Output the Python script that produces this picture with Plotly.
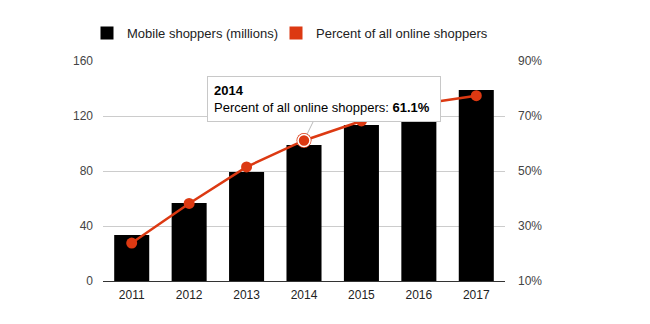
import plotly.graph_objects as go

years = ["2011", "2012", "2013", "2014", "2015", "2016", "2017"]
mobile_shoppers = [33.5, 56.7, 79.3, 98.9, 113.5, 127.0, 138.9]
percent_online = [23.8, 38.2, 51.5, 61.1, 68.2, 74.3, 77.4]
left_ticks = [0, 40, 80, 120, 160]
right_ticks = [10, 30, 50, 70, 90]
highlight_year = "2014"

RED = "#dc3912"
FONT = "Liberation Sans, Arial, sans-serif"

hi = years.index(highlight_year)

fig = go.Figure()

fig.add_trace(go.Bar(
    x=years, y=mobile_shoppers, marker_color="black", marker_line_width=0,
    showlegend=False, hoverinfo="skip"))

fig.add_trace(go.Scatter(
    x=years, y=percent_online, yaxis="y2", mode="lines+markers",
    line=dict(color=RED, width=2.5), marker=dict(color=RED, size=11),
    showlegend=False, hoverinfo="skip"))

# highlighted point (ring)
fig.add_trace(go.Scatter(
    x=[years[hi]], y=[percent_online[hi]], yaxis="y2", mode="markers",
    marker=dict(color=RED, size=15, line=dict(width=0)),
    showlegend=False, hoverinfo="skip"))
fig.add_trace(go.Scatter(
    x=[years[hi]], y=[percent_online[hi]], yaxis="y2", mode="markers",
    marker=dict(color=RED, size=12, line=dict(color="white", width=1.6)),
    showlegend=False, hoverinfo="skip"))

# legend entries
fig.add_trace(go.Scatter(
    x=[years[0]], y=[None], mode="markers", name="Mobile shoppers (millions)",
    marker=dict(symbol="square", color="black", size=13), hoverinfo="skip",
    legend="legend"))
fig.add_trace(go.Scatter(
    x=[years[0]], y=[None], mode="markers", name="Percent of all online shoppers",
    marker=dict(symbol="square", color=RED, size=13), hoverinfo="skip",
    legend="legend2"))

fig.add_annotation(
    x=hi, y=percent_online[hi], yref="y2",
    text=f"<b>{years[hi]}</b><br>Percent of all online shoppers: <b>{percent_online[hi]:.1f}%</b>",
    showarrow=True, arrowhead=0, arrowwidth=1, arrowcolor="#bbbbbb",
    ax=20, ay=-41, standoff=7,
    align="left", bgcolor="white", bordercolor="#c8c8c8", borderwidth=1,
    borderpad=6, width=220,
    font=dict(family=FONT, size=13, color="#000000"))

legend_common = dict(orientation="h", xref="container", xanchor="left",
                     y=0.944, yref="container", yanchor="top",
                     font=dict(size=13, color="#222222"), itemwidth=30,
                     bgcolor="rgba(0,0,0,0)")

fig.update_layout(
    width=650, height=324,
    margin=dict(l=103, r=145, t=61, b=43, autoexpand=False),
    paper_bgcolor="white", plot_bgcolor="white",
    font=dict(family=FONT, size=12, color="#444444"),
    bargap=0.39,
    legend=dict(x=87 / 650, **legend_common),
    legend2=dict(x=276 / 650, **legend_common),
    xaxis=dict(type="category", categoryorder="array", categoryarray=years,
               range=[-0.5, len(years) - 0.5],
               showline=True, linecolor="#333333", linewidth=1,
               showgrid=False, ticks="", ticklabelstandoff=3,
               tickfont=dict(size=12, color="#222222")),
    yaxis=dict(range=[0, 160], tickvals=left_ticks, showgrid=True,
               gridcolor="#cccccc", zeroline=False, ticks="",
               ticklabelstandoff=9,
               tickfont=dict(size=12, color="#444444")),
    yaxis2=dict(range=[10, 90], tickvals=right_ticks,
                ticktext=[f"{v}%" for v in right_ticks], overlaying="y",
                side="right", showgrid=False, zeroline=False, ticks="",
                ticklabelstandoff=12,
                tickfont=dict(size=12, color="#444444")),
)

fig.write_html("out.html")
